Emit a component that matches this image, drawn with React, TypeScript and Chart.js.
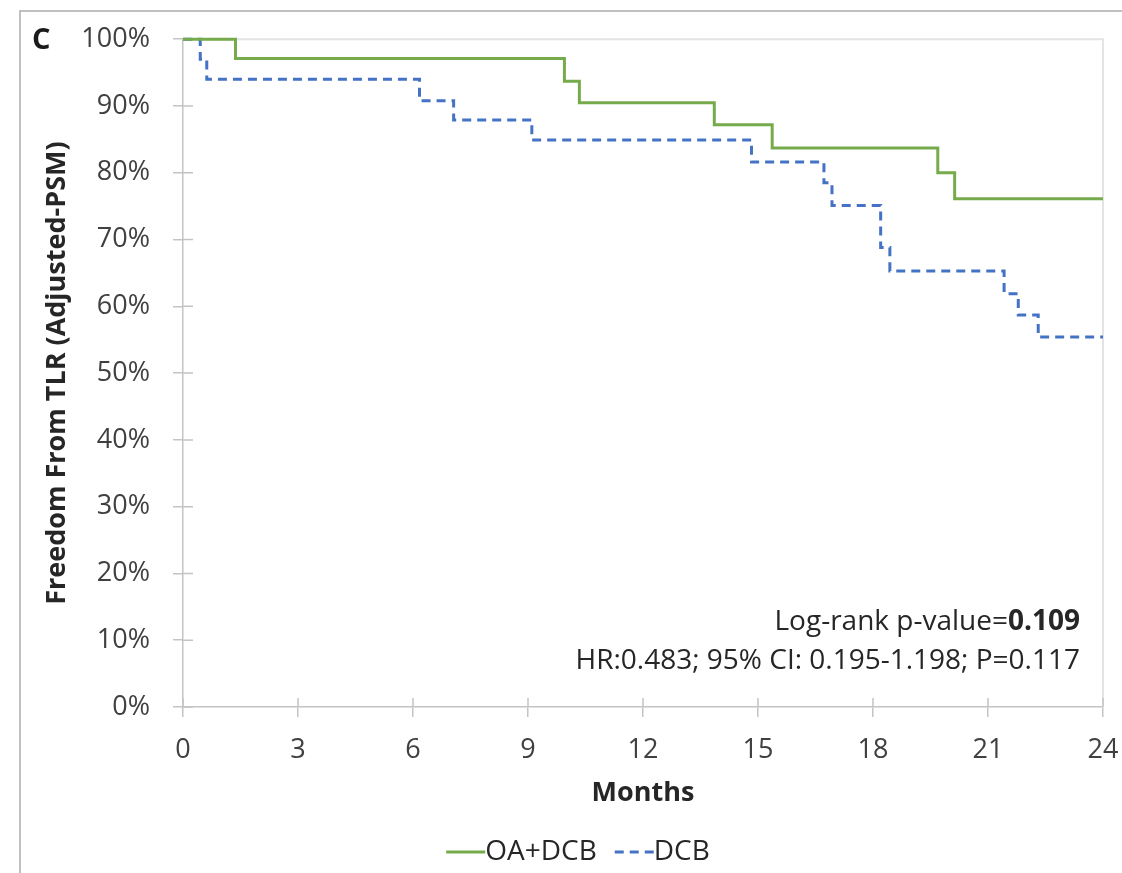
import React, { useEffect, useRef } from "react";
import { Chart, registerables } from "chart.js";

Chart.register(...registerables);

// Kaplan–Meier step data (months, % free from TLR)
const oaMonths = [0, 1.37, 9.95, 10.34, 13.86, 15.37, 19.69, 20.13, 24];
const oaSurvival = [100, 97.1, 93.7, 90.5, 87.2, 83.7, 80.0, 76.1, 76.1];

const dcbMonths = [0, 0.45, 0.62, 6.17, 7.06, 9.1, 14.83, 16.72, 16.93, 18.2, 18.44, 21.42, 21.79, 22.31, 24];
const dcbSurvival = [100, 97.0, 94.0, 90.8, 87.9, 84.9, 81.6, 78.5, 75.1, 68.8, 65.3, 61.9, 58.7, 55.4, 55.4];

const seriesLabels = ["OA+DCB", "DCB"];
const seriesColors = ["#76AB4C", "#4472C4"];

const xTickValues = [0, 3, 6, 9, 12, 15, 18, 21, 24];
const yTickValues = [0, 10, 20, 30, 40, 50, 60, 70, 80, 90, 100];

const panelLetter = "C";
const xTitle = "Months";
const yTitle = "Freedom From TLR (Adjusted-PSM)";
const statPrefix = "Log-rank p-value=";
const statValue = "0.109";
const statHazard = "HR:0.483; 95% CI: 0.195-1.198; P=0.117";

const FONT = '"Open Sans", sans-serif';
const AXIS_COLOR = "#c4c4c4";
const TEXT_COLOR = "#404040";
const TITLE_COLOR = "#262626";

const W = 1122;
const H = 873;

const toPoints = (xs: number[], ys: number[]) => xs.map((x, i) => ({ x, y: ys[i] }));

const decorations = {
  id: "decorations",
  beforeDraw(chart: any) {
    const { ctx } = chart;
    ctx.save();
    ctx.fillStyle = "#ffffff";
    ctx.fillRect(0, 0, chart.width, chart.height);
    // outer frame (top and left edges)
    ctx.strokeStyle = "#c0c0c0";
    ctx.lineWidth = 2;
    ctx.beginPath();
    ctx.moveTo(20, H);
    ctx.lineTo(20, 11);
    ctx.lineTo(W, 11);
    ctx.stroke();
    ctx.restore();
  },
  beforeDatasetsDraw(chart: any) {
    const { ctx, chartArea: a, scales } = chart;
    ctx.save();
    // light plot-area border on top and right
    ctx.strokeStyle = "#e4e4e4";
    ctx.lineWidth = 2;
    ctx.beginPath();
    ctx.moveTo(a.left, a.top);
    ctx.lineTo(a.right, a.top);
    ctx.lineTo(a.right, a.bottom);
    ctx.stroke();
    // inner halves of the cross tick marks
    ctx.strokeStyle = AXIS_COLOR;
    ctx.lineWidth = 1.5;
    ctx.beginPath();
    for (const v of yTickValues) {
      const y = scales.y.getPixelForValue(v);
      ctx.moveTo(a.left, y);
      ctx.lineTo(a.left + 10, y);
    }
    for (const v of xTickValues) {
      const x = scales.x.getPixelForValue(v);
      ctx.moveTo(x, a.bottom);
      ctx.lineTo(x, a.bottom - 9);
    }
    ctx.stroke();
    ctx.restore();
  },
  afterDraw(chart: any) {
    const { ctx, chartArea: a } = chart;
    ctx.save();
    // panel letter
    ctx.fillStyle = "#1a1a1a";
    ctx.font = `bold 29px ${FONT}`;
    ctx.textAlign = "left";
    ctx.textBaseline = "middle";
    ctx.fillText(panelLetter, 32, 41);

    // statistics text, right aligned inside the plot
    const rx = a.right - 23;
    ctx.fillStyle = TITLE_COLOR;
    ctx.textAlign = "right";
    ctx.font = `bold 28px ${FONT}`;
    const bw = ctx.measureText(statValue).width;
    ctx.fillText(statValue, rx, 622);
    ctx.font = `28px ${FONT}`;
    ctx.fillText(statPrefix, rx - bw, 622);
    ctx.fillText(statHazard, rx, 661);

    // legend
    ctx.font = `28px ${FONT}`;
    const sample = 39;
    const gap = 18;
    const widths = seriesLabels.map((l) => ctx.measureText(l).width);
    const total = widths.reduce((s, w) => s + sample + w, 0) + gap * (seriesLabels.length - 1);
    let x = 578 - total / 2;
    const ly = 852;
    chart.data.datasets.forEach((ds: any, i: number) => {
      ctx.strokeStyle = ds.borderColor;
      ctx.lineWidth = 3;
      ctx.setLineDash(ds.borderDash || []);
      ctx.beginPath();
      ctx.moveTo(x, ly);
      ctx.lineTo(x + sample, ly);
      ctx.stroke();
      ctx.setLineDash([]);
      ctx.fillStyle = TITLE_COLOR;
      ctx.textAlign = "left";
      ctx.fillText(ds.label, x + sample, ly);
      x += sample + widths[i] + gap;
    });
    ctx.restore();
  },
};

export default function App() {
  const canvasRef = useRef<HTMLCanvasElement | null>(null);

  useEffect(() => {
    const canvas = canvasRef.current;
    if (!canvas) return;
    const chart = new Chart(canvas, {
      type: "line",
      data: {
        datasets: [
          {
            label: seriesLabels[0],
            data: toPoints(oaMonths, oaSurvival),
            borderColor: seriesColors[0],
            backgroundColor: seriesColors[0],
            borderWidth: 3,
            stepped: "before",
            pointRadius: 0,
            fill: false,
            clip: 4,
          },
          {
            label: seriesLabels[1],
            data: toPoints(dcbMonths, dcbSurvival),
            borderColor: seriesColors[1],
            backgroundColor: seriesColors[1],
            borderWidth: 3,
            borderDash: [9, 6],
            stepped: "before",
            pointRadius: 0,
            fill: false,
            clip: 4,
          },
        ],
      },
      options: {
        responsive: false,
        animation: false,
        devicePixelRatio: 1,
        layout: { padding: { left: 0, right: 0, top: 38, bottom: 0 } },
        plugins: {
          legend: { display: false },
          tooltip: { enabled: false },
        },
        scales: {
          x: {
            type: "linear",
            min: 0,
            max: 24,
            afterBuildTicks: (s: any) => {
              s.ticks = xTickValues.map((v) => ({ value: v }));
            },
            afterFit: (s: any) => {
              s.height = 166;
              s.paddingLeft = 0;
              s.paddingRight = 19;
            },
            grid: {
              display: true,
              drawOnChartArea: false,
              drawTicks: true,
              tickLength: 10,
              color: AXIS_COLOR,
              lineWidth: 1.5,
            },
            border: { display: true, color: AXIS_COLOR, width: 1.5 },
            ticks: {
              padding: 17,
              color: TEXT_COLOR,
              font: { family: FONT, size: 27 },
              maxRotation: 0,
              callback: (v: any) => String(v),
            },
            title: {
              display: true,
              text: xTitle,
              color: TITLE_COLOR,
              font: { family: FONT, size: 27, weight: "bold" },
              padding: { top: 0, bottom: 63 },
            },
          },
          y: {
            type: "linear",
            min: 0,
            max: 100,
            afterBuildTicks: (s: any) => {
              s.ticks = yTickValues.map((v) => ({ value: v }));
            },
            afterFit: (s: any) => {
              s.width = 183;
            },
            grid: {
              display: true,
              drawOnChartArea: false,
              drawTicks: true,
              tickLength: 10,
              color: AXIS_COLOR,
              lineWidth: 1.5,
            },
            border: { display: true, color: AXIS_COLOR, width: 1.5 },
            ticks: {
              padding: 23,
              color: TEXT_COLOR,
              font: { family: FONT, size: 27 },
              callback: (v: any) => `${v}%`,
            },
            title: {
              display: true,
              text: yTitle,
              color: TITLE_COLOR,
              font: { family: FONT, size: 27, weight: "bold" },
              padding: { top: 41, bottom: 0 },
            },
          },
        },
      },
      plugins: [decorations],
    });
    return () => chart.destroy();
  }, []);

  return (
    <div style={{ position: "absolute", left: 0, top: 0, width: W, height: H, background: "#fff" }}>
      <canvas ref={canvasRef} width={W} height={H} style={{ display: "block", width: W, height: H }} />
    </div>
  );
}
